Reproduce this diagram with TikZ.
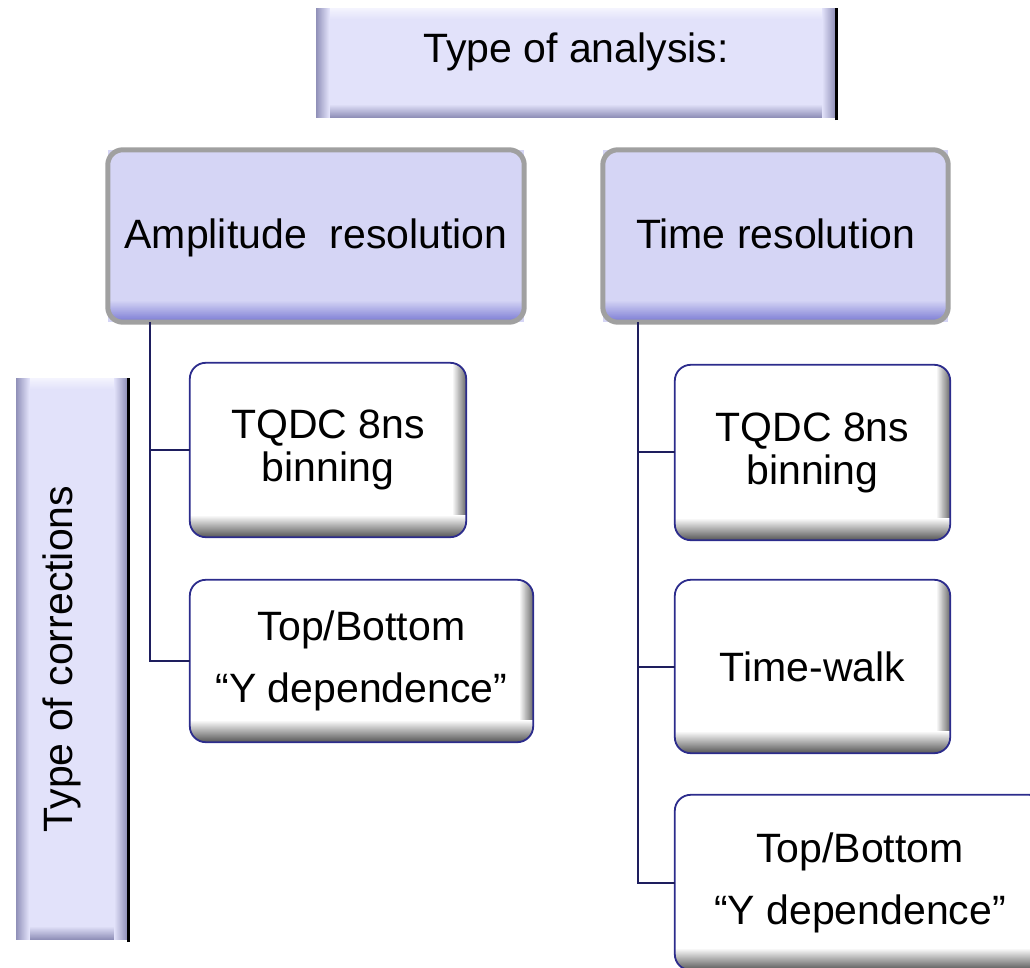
\documentclass[tikz,border=0pt]{standalone}
\usepackage{fontspec}
\setmainfont{Liberation Sans}
\usetikzlibrary{calc}
\definecolor{topfill}{HTML}{E2E2FA}
\definecolor{bevelcol}{HTML}{9090B8}
\definecolor{bevellight}{HTML}{F4F4FE}
\definecolor{parentfill}{HTML}{D5D5F5}
\definecolor{parentbot}{HTML}{7C7CD4}
\definecolor{parentedge}{HTML}{A0A0A0}
\definecolor{childedge}{HTML}{2C2C8C}
\definecolor{linkcol}{HTML}{1E1E5E}
\newcommand\childshade[1]{%
  \begin{scope}
    \clip[rounded corners=16pt] (#1.south west) rectangle (#1.north east);
    \foreach \i in {0,...,13}{\pgfmathtruncatemacro\k{4.2*\i}
      \fill[black!\k] ($(#1.south east)+(-14+\i,0)$) rectangle ($(#1.north east)+(-12.8+\i,0)$);}
    \foreach \i in {0,...,21}{\pgfmathtruncatemacro\k{3*\i}
      \fill[black!\k] ($(#1.south west)+(0,22-\i)$) rectangle ($(#1.south east)+(0,20.8-\i)$);}
  \end{scope}
  \draw[childedge, line width=1.8pt, rounded corners=16pt] (#1.south west) rectangle (#1.north east);
}
\newcommand\parentshade[1]{%
  \begin{scope}
    \clip[rounded corners=15pt] (#1.south west) rectangle (#1.north east);
    \foreach \i in {0,...,21}{\pgfmathtruncatemacro\k{100*\i/21}
      \fill[parentbot!\k!parentfill] ($(#1.south west)+(0,22-\i)$) rectangle ($(#1.south east)+(0,20.8-\i)$);}
  \end{scope}
  \draw[parentedge, line width=5pt, rounded corners=15pt] (#1.south west) rectangle (#1.north east);
}
\newcommand\bevelshade[1]{%
  \foreach \i in {0,...,11}{\pgfmathtruncatemacro\k{100*\i/11}
    \fill[topfill!\k!bevellight] ($(#1.north west)+(0,-\i)$) rectangle ($(#1.north east)+(0,-1.2-\i)$);}
  \foreach \i in {0,...,13}{\pgfmathtruncatemacro\k{100*\i/13}
    \fill[bevelcol!\k!topfill] ($(#1.south west)+(0,14-\i)$) rectangle ($(#1.south east)+(0,12.8-\i)$);}
  \foreach \i in {0,...,13}{\pgfmathtruncatemacro\k{100*\i/13}
    \fill[bevelcol!\k!topfill] ($(#1.south west)+(14-\i,0)$) rectangle ($(#1.north west)+(12.8-\i,0)$);}
  \foreach \i in {0,...,13}{\pgfmathtruncatemacro\k{100*\i/13}
    \fill[bevelcol!\k!topfill] ($(#1.south east)+(-14+\i,0)$) rectangle ($(#1.north east)+(-12.8+\i,0)$);}
}
\begin{document}
\begin{tikzpicture}[x=1pt,y=1pt,
  every node/.style={font=\fontsize{41}{43}\selectfont, inner sep=0pt, align=center},
  bevelbox/.style={fill=topfill},
  parentbox/.style={fill=parentfill, text height=32pt, text depth=6pt},
  childbox/.style={fill=white},
  link/.style={draw=linkcol, line width=2pt},
  edgeline/.style={draw=black, line width=3pt}
]
\useasboundingbox (0,0) rectangle (1030,967);

% top box
\node[bevelbox, minimum width=520, minimum height=110] (top) at (576,904) {};
\bevelshade{top}
\node[text height=29pt, text depth=29pt] (toptext) at (top.center) {Type of analysis:};
\draw[edgeline] ([yshift=-2pt]top.south east) -- (top.north east);

% vertical box
\node[bevelbox, minimum width=112, minimum height=562] (vbox) at (72,308) {};
\bevelshade{vbox}
\draw[edgeline] ([yshift=-2pt]vbox.south east) -- (vbox.north east);
\node[rotate=90, text height=29pt, text depth=29pt] (vtext) at (vbox.center) {Type of corrections};

% parents
\node[parentbox, minimum width=416, minimum height=172] (amp) at (316,731) {Amplitude\ \ resolution};
\parentshade{amp}
\node[parentbox, minimum width=345, minimum height=172] (time) at (775.5,731) {Time resolution};
\parentshade{time}

% children
\node[childbox, minimum width=276, minimum height=174] (tqdcL) at (328,517) {TQDC 8ns\\binning};
\childshade{tqdcL}
\node[childbox, minimum width=343, minimum height=162, font=\fontsize{41}{62}\selectfont] (tbL) at (361.5,306) {Top/Bottom\\“Y dependence”};
\childshade{tbL}
\node[childbox, minimum width=275, minimum height=175] (tqdcR) at (812.5,514.5) {TQDC 8ns\\binning};
\childshade{tqdcR}
\node[childbox, minimum width=275, minimum height=173] (twR) at (812.5,300.5) {Time-walk};
\childshade{twR}
\node[childbox, minimum width=370, minimum height=175, font=\fontsize{41}{62}\selectfont] (tbR) at (860,84.5) {Top/Bottom\\“Y dependence”};
\childshade{tbR}

% connectors
\coordinate (ampstem) at ([xshift=42pt]amp.south west);
\coordinate (timestem) at ([xshift=35pt]time.south west);
\draw[link] (ampstem) |- (tqdcL.west);
\draw[link] (ampstem) |- (tbL.west);
\draw[link] (timestem) |- (tqdcR.west);
\draw[link] (timestem) |- (twR.west);
\draw[link] (timestem) |- (tbR.west);
\end{tikzpicture}
\end{document}
